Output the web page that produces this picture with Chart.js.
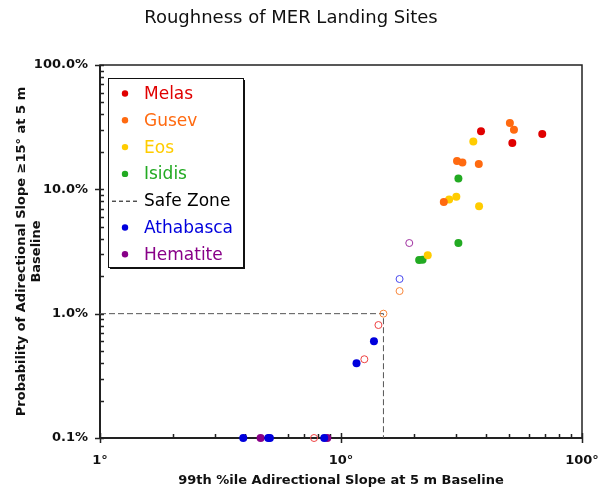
<!DOCTYPE html>
<html>
<head>
<meta charset="utf-8">
<script src="https://cdn.jsdelivr.net/npm/chart.js@4.4.1/dist/chart.umd.min.js"></script>
<style>
  html, body { margin: 0; padding: 0; background: #fff; }
  #wrap { width: 607px; height: 487px; }
</style>
</head>
<body>
<div id="wrap"><canvas id="chart"></canvas></div>
<script>
// Roughness of MER landing sites — 99th %ile slope vs. probability of slope >= 15°
// x = degrees, y = percent

const melasX  = [38.1, 51.4, 68.4];
const melasY  = [29.3, 23.6, 27.8];
const melasOpenX = [14.3, 12.5, 7.73];
const melasOpenY = [0.81, 0.43, 0.1];

const gusevX  = [50.2, 52.2, 30.3, 31.9, 37.3, 26.7];
const gusevY  = [34.2, 30.2, 16.9, 16.4, 16.0, 7.9];
const gusevOpenX = [17.5, 15.0];
const gusevOpenY = [1.52, 1.0];

const eosX    = [35.4, 28.1, 30.1, 37.4, 22.9];
const eosY    = [24.2, 8.3, 8.7, 7.3, 2.95];

const isidisX = [30.7, 30.7, 21.1, 21.8];
const isidisY = [12.2, 3.7, 2.7, 2.72];

const athaX   = [13.7, 11.6, 3.93, 4.99, 5.07, 8.52];
const athaY   = [0.60, 0.40, 0.1, 0.1, 0.1, 0.1];
const athaOpenX = [17.5];
const athaOpenY = [1.9];

const hemX    = [4.64, 8.77];
const hemY    = [0.1, 0.1];
const hemOpenX = [19.2];
const hemOpenY = [3.7];

// safe zone corner: 15° / 1 %
const safeX = [1, 15, 15];
const safeY = [1, 1, 0.1];

const xTicks = [1, 10, 100];
const yTicks = [0.1, 1, 10, 100];

const COLORS = {
  melas: '#e00000',
  gusev: '#ff6a10',
  eos:   '#ffcc00',
  isidis:'#22aa22',
  atha:  '#0000dd',
  hem:   '#880088',
};

function pts(xs, ys) {
  return xs.map((x, i) => ({ x, y: ys[i] }));
}

function filled(label, xs, ys, color) {
  return {
    label,
    data: pts(xs, ys),
    backgroundColor: color,
    borderColor: color,
    borderWidth: 0,
    pointRadius: 4,
    pointHoverRadius: 4,
    clip: false,
  };
}

function hollow(label, xs, ys, color) {
  return {
    label,
    hollow: true,
    data: pts(xs, ys),
    backgroundColor: 'rgba(255,255,255,0)',
    borderColor: color,
    borderWidth: 1,
    pointRadius: 3.5,
    pointHoverRadius: 3.5,
    clip: false,
  };
}

const datasets = [
  filled('Melas', melasX, melasY, COLORS.melas),
  filled('Gusev', gusevX, gusevY, COLORS.gusev),
  filled('Eos', eosX, eosY, COLORS.eos),
  filled('Isidis', isidisX, isidisY, COLORS.isidis),
  {
    label: 'Safe Zone',
    type: 'line',
    data: pts(safeX, safeY),
    borderColor: '#555',
    borderWidth: 1,
    borderDash: [6, 3],
    pointRadius: 0,
    showLine: true,
    fill: false,
    order: 10,
    clip: false,
  },
  filled('Athabasca', athaX, athaY, COLORS.atha),
  filled('Hematite', hemX, hemY, COLORS.hem),
  hollow('Melas (open)', melasOpenX, melasOpenY, '#ee4040'),
  hollow('Gusev (open)', gusevOpenX, gusevOpenY, '#f8863a'),
  hollow('Athabasca (open)', athaOpenX, athaOpenY, '#4848ee'),
  hollow('Hematite (open)', hemOpenX, hemOpenY, '#a030a0'),
];

// ── frame + inward minor ticks ─────────────────────────────────
const framePlugin = {
  id: 'frame',
  beforeDatasetsDraw(chart) {
    const { ctx, chartArea: a, scales: { x, y } } = chart;
    ctx.save();
    ctx.strokeStyle = '#222';
    ctx.lineWidth = 1.5;
    ctx.strokeRect(a.left, a.top, a.right - a.left, a.bottom - a.top);
    ctx.lineWidth = 2;
    ctx.beginPath();
    ctx.moveTo(a.left, a.top);
    ctx.lineTo(a.left, a.bottom);
    ctx.lineTo(a.right, a.bottom);
    ctx.stroke();

    ctx.lineWidth = 1.5;
    ctx.beginPath();
    for (let d = 0; d <= 2; d++) {
      for (let m = 1; m < 10; m++) {
        const v = m * Math.pow(10, d);
        if (v > 100) break;
        const px = Math.round(x.getPixelForValue(v)) + 0.5;
        if (m === 1) {
          ctx.moveTo(px, a.bottom + 5);
          ctx.lineTo(px, a.bottom - 5);
        } else {
          ctx.moveTo(px, a.bottom);
          ctx.lineTo(px, a.bottom - 4);
        }
      }
    }
    for (let d = -1; d <= 2; d++) {
      for (let m = 1; m < 10; m++) {
        const v = m * Math.pow(10, d);
        if (v > 100.0001) break;
        const py = Math.round(y.getPixelForValue(v)) + 0.5;
        if (m === 1) {
          ctx.moveTo(a.left - 5, py);
          ctx.lineTo(a.left + 4, py);
        } else {
          ctx.moveTo(a.left, py);
          ctx.lineTo(a.left + 4, py);
        }
      }
    }
    ctx.stroke();
    ctx.restore();
  },
};

// ── boxed legend with shadow, inside the plot ──────────────────
const boxLegend = {
  id: 'boxLegend',
  afterDatasetsDraw(chart) {
    const { ctx } = chart;
    const items = chart.data.datasets.filter(ds => !ds.hollow);
    const left = 108, top = 78, w = 135, h = 189;
    const rowH = 26.8, firstY = 93.5;

    ctx.save();
    ctx.fillStyle = '#111';
    ctx.fillRect(left + 2, top + 2, w, h);
    ctx.fillStyle = '#fff';
    ctx.fillRect(left, top, w, h);
    ctx.strokeStyle = '#111';
    ctx.lineWidth = 1;
    ctx.strokeRect(left + 0.5, top + 0.5, w, h);

    ctx.font = '17px "DejaVu Sans", sans-serif';
    ctx.textBaseline = 'middle';
    ctx.textAlign = 'left';
    items.forEach((ds, i) => {
      const cy = firstY + i * rowH;
      if (ds.type === 'line') {
        ctx.strokeStyle = '#000';
        ctx.lineWidth = 1;
        ctx.setLineDash([4, 3]);
        ctx.beginPath();
        ctx.moveTo(112, cy + 0.5);
        ctx.lineTo(140, cy + 0.5);
        ctx.stroke();
        ctx.setLineDash([]);
        ctx.fillStyle = '#000';
      } else {
        ctx.fillStyle = ds.backgroundColor;
        ctx.beginPath();
        ctx.arc(125, cy, 3.2, 0, Math.PI * 2);
        ctx.fill();
      }
      ctx.fillText(ds.label, 144, cy + 1);
    });
    ctx.restore();
  },
};

new Chart(document.getElementById('chart'), {
  type: 'scatter',
  data: { datasets },
  options: {
    responsive: true,
    maintainAspectRatio: false,
    animation: false,
    layout: { padding: { left: 0, right: 25, top: 0, bottom: 0 } },
    plugins: {
      legend: { display: false },
      tooltip: { enabled: false },
      title: {
        display: true,
        text: 'Roughness of MER Landing Sites',
        color: '#111',
        font: { family: '"DejaVu Sans", sans-serif', size: 18, weight: 'normal', lineHeight: 1.2 },
        padding: { top: 8, bottom: 35.4 },
      },
    },
    scales: {
      x: {
        type: 'logarithmic',
        min: 1,
        max: 100,
        grid: { display: false, drawTicks: false },
        border: { display: false },
        afterBuildTicks: s => { s.ticks = xTicks.map(v => ({ value: v })); },
        afterFit: s => { s.height = 49; s.paddingRight = 0; s.paddingLeft = 0; },
        ticks: {
          autoSkip: false,
          maxRotation: 0,
          padding: 15,
          color: '#111',
          font: { family: '"DejaVu Sans", sans-serif', size: 13, weight: 'bold' },
          callback: v => v + '°',
        },
        title: {
          display: true,
          text: '99th %ile Adirectional Slope at 5 m Baseline',
          color: '#111',
          font: { family: '"DejaVu Sans", sans-serif', size: 13, weight: 'bold', lineHeight: 1 },
          padding: { top: 0, bottom: 0 },
        },
      },
      y: {
        type: 'logarithmic',
        min: 0.1,
        max: 100,
        grid: { display: false, drawTicks: false },
        border: { display: false },
        afterBuildTicks: s => { s.ticks = yTicks.map(v => ({ value: v })); },
        afterFit: s => { s.width = 100; },
        ticks: {
          autoSkip: false,
          padding: 12,
          color: '#111',
          font: { family: '"DejaVu Sans", sans-serif', size: 13, weight: 'bold' },
          callback: v => Number(v).toFixed(1) + '%',
        },
        title: {
          display: true,
          text: ['Probability of Adirectional Slope \u226515\u00b0 at 5 m', 'Baseline'],
          color: '#111',
          font: { family: '"DejaVu Sans", sans-serif', size: 13, weight: 'bold', lineHeight: 1.15 },
          padding: { top: 14.5, bottom: 0 },
        },
      },
    },
  },
  plugins: [framePlugin, boxLegend],
});
</script>
</body>
</html>
